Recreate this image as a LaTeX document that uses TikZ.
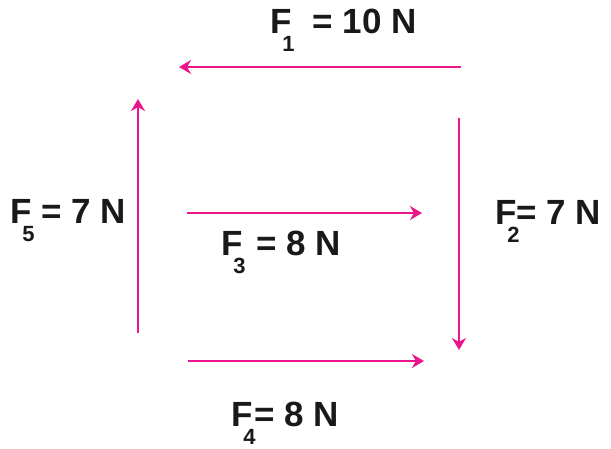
\documentclass[tikz,border=0pt]{standalone}
\usepackage{fontspec}
\setmainfont{Liberation Sans}
\usetikzlibrary{arrows.meta}

\definecolor{forcepink}{RGB}{236,22,140}
\definecolor{forceink}{RGB}{25,25,25}

% F with its index set low, under the F
\newcommand{\Fsub}[1]{F\llap{\raisebox{-18pt}{\fontsize{22}{22}\selectfont #1}\kern-3pt}}

\begin{document}
\begin{tikzpicture}[x = 1pt, y = -1pt,
    force/.style = {draw = forcepink, line width = 2.6pt, -{Stealth[length = 12pt, width = 14pt]}},
    forcetext/.style = {anchor = base west, inner sep = 0pt, text = forceink, font = \fontsize{35}{35}\selectfont\bfseries}]
            \useasboundingbox (0,0) rectangle (611,448);

            % Ends of the arrows
            \coordinate (F1tail) at (461, 67);
            \coordinate (F1head) at (179, 67);
            \coordinate (F2tail) at (459, 118);
            \coordinate (F2head) at (459, 350);
            \coordinate (F3tail) at (187, 213);
            \coordinate (F3head) at (422, 213);
            \coordinate (F4tail) at (188, 361);
            \coordinate (F4head) at (424, 361);
            \coordinate (F5tail) at (138, 333);
            \coordinate (F5head) at (138, 99);

            % Draw the forces
            \draw [force] (F1tail) -- (F1head);
            \draw [force] (F2tail) -- (F2head);
            \draw [force] (F3tail) -- (F3head);
            \draw [force] (F4tail) -- (F4head);
            \draw [force] (F5tail) -- (F5head);

            % Force values
            \node [forcetext] (F1val) at (270, 33) {\Fsub{1}\hspace{0.6em}= 10 N};
            \node [forcetext] (F2val) at (495, 224) {\Fsub{2}= 7 N};
            \node [forcetext] (F3val) at (221, 255) {\Fsub{3}\hspace{0.4em}= 8 N};
            \node [forcetext] (F4val) at (231, 426) {\Fsub{4}\kern2pt= 8 N};
            \node [forcetext] (F5val) at (10, 223) {\Fsub{5} = 7 N};

        \end{tikzpicture}
\end{document}
